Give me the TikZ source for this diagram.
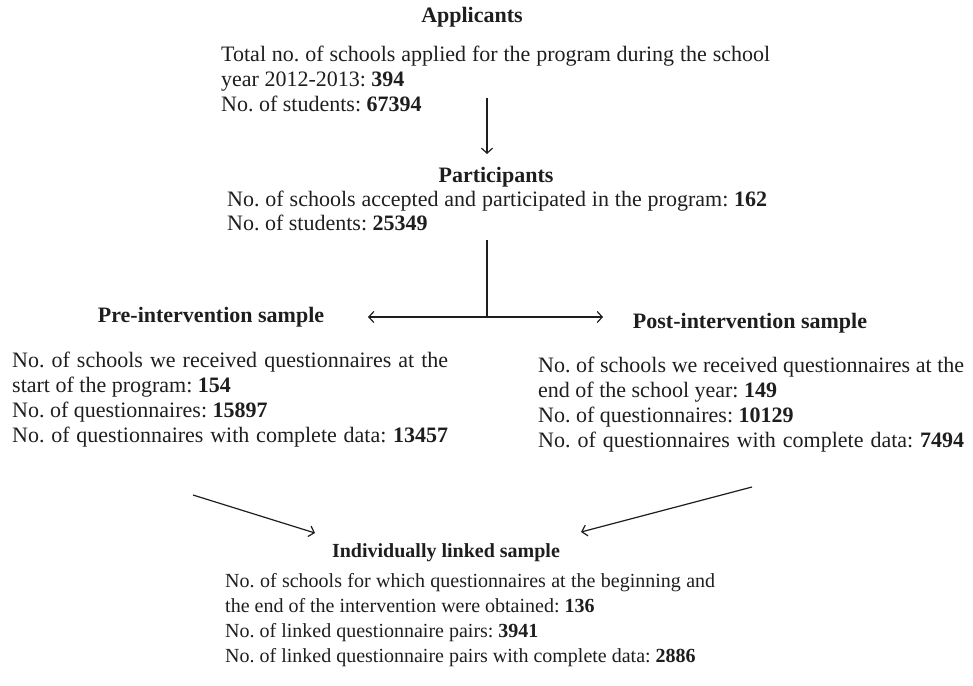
\documentclass[tikz,border=0pt]{standalone}
\usepackage{fontspec}
\setmainfont{Liberation Serif}
\usetikzlibrary{arrows.meta}
\frenchspacing
\newcommand\jline[2]{\hbox to #1pt{#2}}
\newcommand\pline[1]{\hbox{#1}}
\definecolor{ink}{HTML}{1E1E1E}
\tikzset{
  blk/.style={anchor=base west, inner sep=0pt, text=ink, font=\fontsize{22}{25}\selectfont},
  blks/.style={anchor=base west, inner sep=0pt, text=ink, font=\fontsize{20}{25}\selectfont},
  head/.style={anchor=base, inner sep=0pt, text=ink, font=\fontsize{22}{25}\selectfont\bfseries},
  heads/.style={anchor=base, inner sep=0pt, text=ink, font=\fontsize{20}{25}\selectfont\bfseries},
  arr/.style={draw=ink, line width=1.2pt, -{Straight Barb[length=5pt,width=11pt,line width=1.2pt]}},
  ln/.style={draw=ink, line width=1.2pt},
}
\begin{document}
\begin{tikzpicture}[x=1pt,y=-1pt]
\useasboundingbox (0,0) rectangle (973,685);
% Applicants
\node[head] (apph) at (472,23) {Applicants};
\node[blk] (appt) at (221,62) {\vtop{\baselineskip=24.5pt
  \jline{549}{Total no. of schools applied for the program during the school}
  \pline{year 2012-2013: \textbf{394}}
  \pline{No. of students: \textbf{67394}}}};
% Participants
\node[head] (parh) at (496,182) {Participants};
\node[blk] (part) at (227,206) {\vtop{\baselineskip=24pt
  \jline{540}{No. of schools accepted and participated in the program: \textbf{162}}
  \pline{No. of students: \textbf{25349}}}};
% Pre
\node[head] (preh) at (211,322) {Pre-intervention sample};
\node[blk] (pret) at (12,367) {\vtop{\baselineskip=25pt
  \jline{436}{No. of schools we received questionnaires at the}
  \pline{start of the program: \textbf{154}}
  \pline{No. of questionnaires: \textbf{15897}}
  \jline{436}{No. of questionnaires with complete data: \textbf{13457}}}};
% Post
\node[head] (posth) at (750,328) {Post-intervention sample};
\node[blk] (postt) at (538,372) {\vtop{\baselineskip=25pt
  \jline{426}{No. of schools we received questionnaires at the}
  \pline{end of the school year: \textbf{149}}
  \pline{No. of questionnaires: \textbf{10129}}
  \jline{426}{No. of questionnaires with complete data: \textbf{7494}}}};
% Linked
\node[heads] (linkh) at (446,557) {Individually linked sample};
\node[blks] (linkt) at (225,587) {\vtop{\baselineskip=25pt
  \jline{490}{No. of schools for which questionnaires at the beginning and}
  \pline{the end of the intervention were obtained: \textbf{136}}
  \pline{No. of linked questionnaire pairs: \textbf{3941}}
  \pline{No. of linked questionnaire pairs with complete data: \textbf{2886}}}};
% connectors
\coordinate (a1) at (487,98);
\coordinate (a2) at (487,154);
\draw[arr] (a1) -- (a2);
\coordinate (v1) at (487,240);
\coordinate (j) at (487,317);
\coordinate (jl) at (368,317);
\coordinate (jr) at (603,317);
\draw[ln] (v1) -- (j);
\draw[arr] (j) -- (jl);
\draw[arr] (j) -- (jr);
\coordinate (d1) at (193,495);
\coordinate (d1e) at (315,533);
\coordinate (d2) at (752,487);
\coordinate (d2e) at (581,532);
\draw[arr] (d1) -- (d1e);
\draw[arr] (d2) -- (d2e);
\end{tikzpicture}
\end{document}
